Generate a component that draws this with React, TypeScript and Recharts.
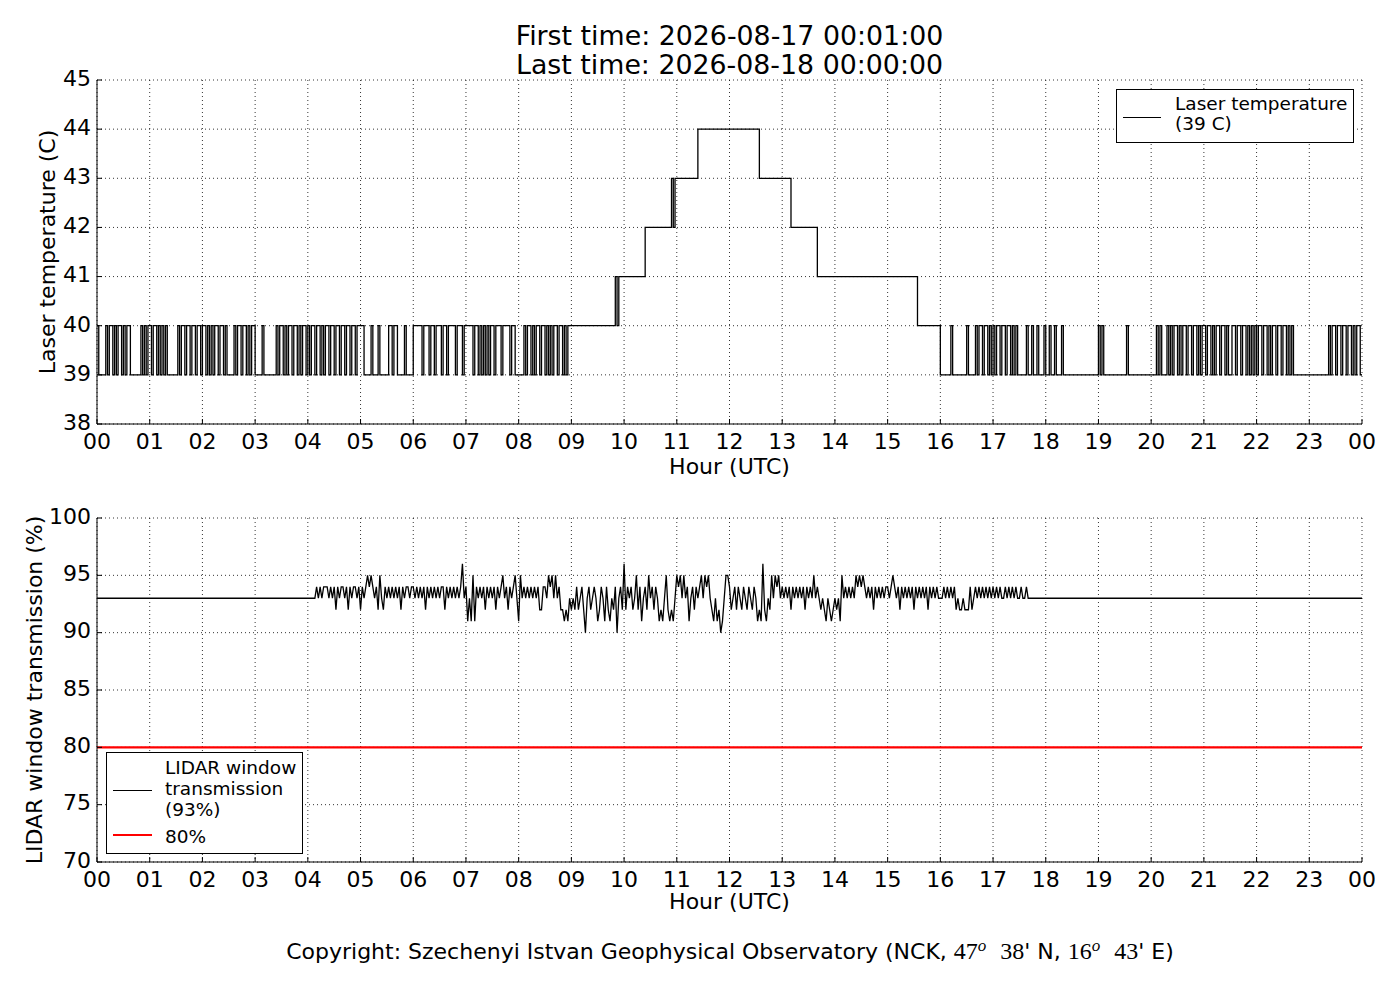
import { LineChart, Line, XAxis, YAxis, CartesianGrid, ReferenceLine } from 'recharts';

const FONT = '"DejaVu Sans", sans-serif';
const MATH = '"Liberation Serif", "DejaVu Serif", serif';

const hourTicks = [0, 1, 2, 3, 4, 5, 6, 7, 8, 9, 10, 11, 12, 13, 14, 15, 16, 17, 18, 19, 20, 21, 22, 23, 24];
const tempTicks = [38, 39, 40, 41, 42, 43, 44, 45];
const transTicks = [70, 75, 80, 85, 90, 95, 100];

// laser temperature: one row per hour, one digit per 2-minute sample (spaces are only for reading),
// digit = degrees above tempBase
const tempBase = 39;
const tempHours = [
  '10000 10110 10110 10110 00000 10101',
  '10110 10101 00000 01011 01101 10110',
  '11010 10110 11010 00010 11011 01011',
  '00001 00000 00101 10101 10110 10110',
  '10110 11010 11011 01101 10110 11011',
  '11000 01000 10000 01101 10000 10000',
  '11111 01110 11011 10110 11110 11101',
  '11110 11010 10101 10111 01111 01100',
  '00010 11010 11011 01010 11011 01011',
  '11111 11111 11111 11111 11111 21222',
  '22222 22222 22333 33333 33333 33434',
  '44444 44444 44555 55555 55555 55555',
  '55555 55555 55555 55444 44444 44444',
  '44444 33333 33333 33333 22222 22222',
  '22222 22222 22222 22222 22222 22222',
  '22222 22222 22222 22111 11111 11111',
  '00000 01000 00000 10000 10110 11010',
  '10110 11011 01010 00001 00100 10001',
  '00100 10001 00000 00000 00000 00000',
  '10100 00000 00000 01000 00000 00000',
  '00010 10001 01011 01011 01101 10101',
  '10110 10110 11010 01101 10110 10101',
  '01101 10101 10110 11010 10000 00000',
  '00000 00000 01011 01101 10110 10110',
];
const tempLast = 39;
const tempCurrent = 39;

// window transmission: same layout, digit = percent above transBase
const transBase = 90;
const transHours = [
  '33333 33333 33333 33333 33333 33333',
  '33333 33333 33333 33333 33333 33333',
  '33333 33333 33333 33333 33333 33333',
  '33333 33333 33333 33333 33333 33333',
  '33333 43434 44343 42434 43424 34434',
  '24345 45434 25324 34343 43424 34434',
  '43434 34243 43434 34424 34343 43463',
  '41315 14343 42434 34243 45342 43453',
  '15343 43434 34224 43545 35342 21213',
  '23242 34203 42343 12431 42132 40342',
  '62434 23524 13425 34243 12135 21213',
  '54535 34134 24345 35453 21312 01355',
  '42342 43243 24324 31216 21325 35453',
  '43434 24343 43424 34353 43232 13212',
  '32315 34343 43545 45434 34243 43434',
  '43454 34243 43434 24343 43424 34343',
  '33434 34342 32232 22423 43434 34343',
  '43434 33434 34343 34334 33333 33333',
  '33333 33333 33333 33333 33333 33333',
  '33333 33333 33333 33333 33333 33333',
  '33333 33333 33333 33333 33333 33333',
  '33333 33333 33333 33333 33333 33333',
  '33333 33333 33333 33333 33333 33333',
  '33333 33333 33333 33333 33333 33333',
];
const transLast = 93;
const transCurrent = 93;
const transLimit = 80;

function decode(rows: string[], base: number, last: number) {
  const pts: { hour: number; value: number }[] = [];
  rows.forEach((raw, h) => {
    const row = raw.replace(/ /g, '');
    for (let j = 0; j < row.length; j++) {
      pts.push({ hour: h + j / row.length, value: base + Number(row[j]) });
    }
  });
  pts.push({ hour: rows.length, value: last });
  return pts;
}

const tempData = decode(tempHours, tempBase, tempLast);
const transData = decode(transHours, transBase, transLast);

const fmtHour = (v: number) => String(v % 24).padStart(2, '0');
const tickStyle = { fill: '#000', fontSize: 22, fontFamily: FONT };

function Panel({
  top,
  marginTop,
  marginBottom,
  data,
  domain,
  ticks,
  yLabel,
  yLabelOffset,
  xLabelOffset,
  curve,
  children,
}: {
  top: number;
  marginTop: number;
  marginBottom: number;
  data: { hour: number; value: number }[];
  domain: [number, number];
  ticks: number[];
  yLabel: string;
  yLabelOffset: number;
  xLabelOffset: number;
  curve: 'stepAfter' | 'linear';
  children?: any;
}) {
  return (
    <div style={{ position: 'absolute', left: 0, top }}>
      <LineChart width={1400} height={500} data={data} margin={{ top: marginTop, right: 38, bottom: marginBottom, left: 0 }}>
        <CartesianGrid stroke="#000" strokeWidth={0.8} strokeDasharray="1 3" />
        <XAxis
          dataKey="hour"
          type="number"
          domain={[0, 24]}
          ticks={hourTicks}
          interval={0}
          allowDataOverflow
          tickFormatter={fmtHour}
          height={50}
          tickSize={-5}
          tickMargin={14}
          stroke="#000"
          tick={tickStyle}
          label={{ value: 'Hour (UTC)', position: 'insideBottom', offset: xLabelOffset, fill: '#000', fontSize: 22, fontFamily: FONT }}
        />
        <XAxis
          xAxisId="top"
          orientation="top"
          type="number"
          domain={[0, 24]}
          ticks={hourTicks}
          interval={0}
          allowDataOverflow
          height={0}
          tick={false}
          tickSize={-5}
          stroke="#000"
        />
        <YAxis
          type="number"
          domain={domain}
          ticks={ticks}
          interval={0}
          allowDataOverflow
          width={97}
          tickSize={-5}
          tickMargin={11}
          stroke="#000"
          tick={{ ...tickStyle, dy: -2 }}
          label={{
            value: yLabel,
            angle: -90,
            position: 'insideLeft',
            offset: yLabelOffset,
            fill: '#000',
            fontSize: 22,
            fontFamily: FONT,
            style: { textAnchor: 'middle' },
          }}
        />
        <YAxis
          yAxisId="right"
          orientation="right"
          type="number"
          domain={domain}
          ticks={ticks}
          interval={0}
          allowDataOverflow
          width={0}
          tick={false}
          tickSize={-5}
          stroke="#000"
        />
        {children}
        <Line type={curve} dataKey="value" stroke="#000" strokeWidth={1.3} dot={false} isAnimationActive={false} />
      </LineChart>
    </div>
  );
}

const legendText = { fontFamily: FONT, fontSize: 18.5, lineHeight: '21px', color: '#000', whiteSpace: 'nowrap' as const };

export default function App() {
  return (
    <div style={{ position: 'absolute', left: 0, top: 0, width: 1400, height: 1000, background: '#fff', fontFamily: FONT }}>
      <div style={{ position: 'absolute', left: 97, top: 21, width: 1265, textAlign: 'center', fontSize: 26.8, lineHeight: '29px' }}>
        <div>First time: 2026-08-17 00:01:00</div>
        <div>Last time: 2026-08-18 00:00:00</div>
      </div>

      <Panel
        top={0}
        marginTop={80}
        marginBottom={26}
        data={tempData}
        domain={[38, 45]}
        ticks={tempTicks}
        yLabel="Laser temperature (C)"
        yLabelOffset={47}
        xLabelOffset={0}
        curve="stepAfter"
      />

      <Panel
        top={500}
        marginTop={18}
        marginBottom={88}
        data={transData}
        domain={[70, 100]}
        ticks={transTicks}
        yLabel="LIDAR window transmission (%)"
        yLabelOffset={34}
        xLabelOffset={3}
        curve="linear"
      >
        <ReferenceLine y={transLimit} stroke="#ff0000" strokeWidth={2.2} ifOverflow="extendDomain" />
      </Panel>

      <div style={{ position: 'absolute', left: 1116, top: 89, width: 238, height: 54, boxSizing: 'border-box', border: '1px solid #000', background: '#fff' }}>
        <div style={{ position: 'absolute', left: 6, top: 27, width: 38, height: 1.2, background: '#000' }} />
        <div style={{ ...legendText, position: 'absolute', left: 58, top: 4, lineHeight: '20px' }}>
          <div>Laser temperature</div>
          <div>({tempCurrent} C)</div>
        </div>
      </div>

      <div style={{ position: 'absolute', left: 106, top: 752, width: 197, height: 102, boxSizing: 'border-box', border: '1px solid #000', background: '#fff' }}>
        <div style={{ position: 'absolute', left: 6, top: 37, width: 39, height: 1.2, background: '#000' }} />
        <div style={{ ...legendText, position: 'absolute', left: 58, top: 4 }}>
          <div>LIDAR window</div>
          <div>transmission</div>
          <div>({transCurrent}%)</div>
        </div>
        <div style={{ position: 'absolute', left: 6, top: 81, width: 39, height: 2.4, background: '#ff0000' }} />
        <div style={{ ...legendText, position: 'absolute', left: 58, top: 73 }}>{transLimit}%</div>
      </div>

      <div style={{ position: 'absolute', left: 0, top: 938, width: 1460, textAlign: 'center', fontSize: 22, lineHeight: '26px', whiteSpace: 'nowrap' }}>
        Copyright: Szechenyi Istvan Geophysical Observatory (NCK,{' '}
        <span style={{ fontFamily: MATH, fontSize: 24 }}>47</span>
        <sup style={{ fontFamily: MATH, fontStyle: 'italic', fontSize: 17, verticalAlign: 8, lineHeight: 0 }}>o</sup>
        <span style={{ fontFamily: MATH, fontSize: 24, marginLeft: 14 }}>38</span>' N,{' '}
        <span style={{ fontFamily: MATH, fontSize: 24 }}>16</span>
        <sup style={{ fontFamily: MATH, fontStyle: 'italic', fontSize: 17, verticalAlign: 8, lineHeight: 0 }}>o</sup>
        <span style={{ fontFamily: MATH, fontSize: 24, marginLeft: 14 }}>43</span>' E)
      </div>
    </div>
  );
}
